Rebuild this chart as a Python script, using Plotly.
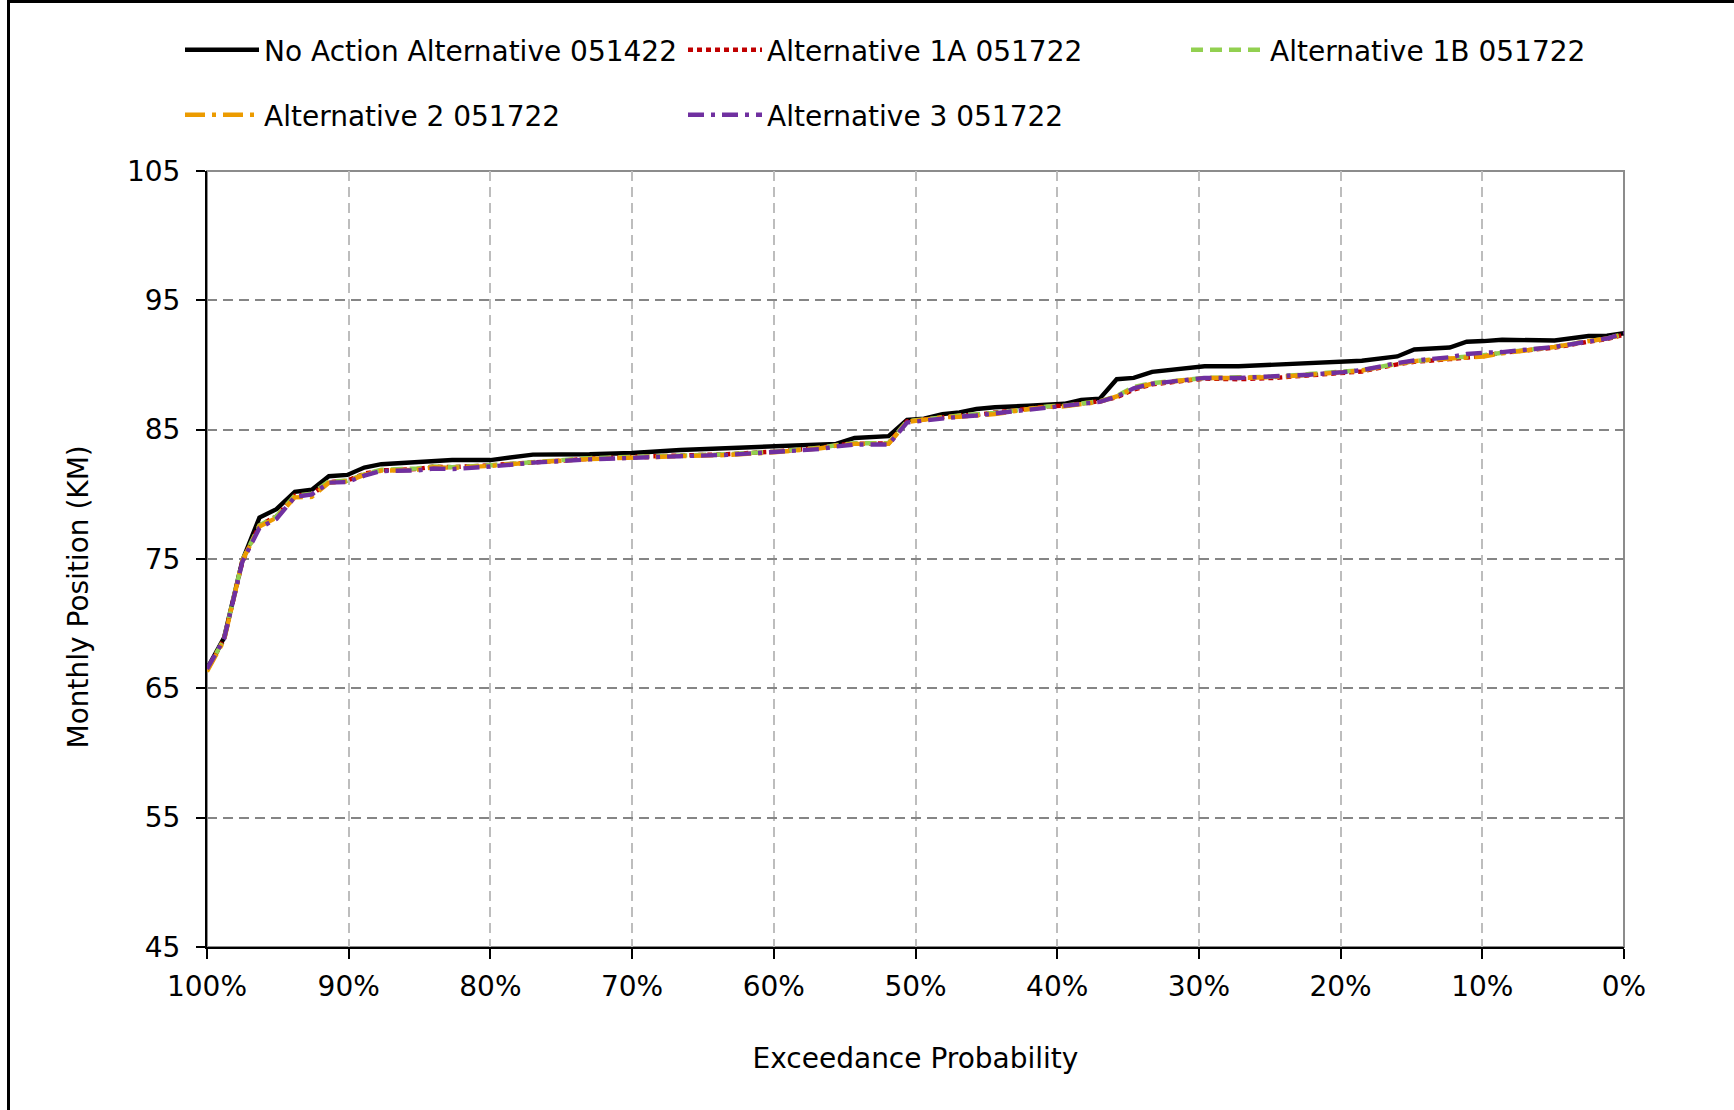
import plotly.graph_objects as go

exceedance = [100, 98.8, 97.5, 96.3, 95.1, 93.8, 92.6, 91.4, 90.1, 88.9,
              87.7, 86.4, 85.2, 84.0, 82.7, 80.0, 77.0, 73.0, 70.0, 66.6,
              63.3, 60.0, 56.7, 55.6, 54.3, 51.9, 50.6, 49.4, 48.1, 46.9,
              45.7, 44.4, 42.0, 40.7, 39.5, 38.3, 37.0, 35.8, 34.6, 33.3,
              31.0, 29.6, 27.2, 24.7, 22.2, 19.8, 18.5, 16.0, 14.8, 12.3,
              11.1, 9.9, 8.6, 4.9, 2.5, 1.2, 0]

no_action = [66.5, 68.9, 74.9, 78.2, 78.85, 80.2, 80.35, 81.4, 81.5, 82.07,
             82.33, 82.4, 82.53, 82.55, 82.66, 82.65, 83.07, 83.1, 83.2, 83.43,
             83.58, 83.7, 83.85, 83.9, 84.36, 84.5, 85.75, 85.85, 86.2, 86.34,
             86.6, 86.73, 86.85, 86.95, 87.0, 87.3, 87.4, 88.9, 89.0, 89.47,
             89.75, 89.9, 89.9, 90.0, 90.1, 90.25, 90.33, 90.66, 91.2, 91.35,
             91.8, 91.85, 91.95, 91.9, 92.24, 92.26, 92.46]

alt_1a = [66.4, 68.8, 74.8, 77.6, 78.3, 79.9, 80.0, 80.95, 81.05, 81.6,
          81.85, 81.9, 81.95, 82.15, 82.1, 82.25, 82.5, 82.75, 82.9, 83.0,
          83.1, 83.3, 83.6, 83.8, 83.9, 83.95, 85.65, 85.8, 86.0, 86.1,
          86.15, 86.3, 86.65, 86.8, 86.85, 87.0, 87.2, 87.5, 88.1, 88.5,
          88.8, 88.95, 88.9, 89.0, 89.2, 89.35, 89.5, 90.05, 90.25, 90.45,
          90.6, 90.7, 90.95, 91.35, 91.8, 92.0, 92.35]

alt_1b = [66.4, 68.8, 74.9, 77.6, 78.3, 79.9, 80.05, 81.0, 81.05, 81.55,
          81.9, 81.95, 82.0, 82.15, 82.1, 82.25, 82.5, 82.8, 82.9, 83.0,
          83.1, 83.3, 83.6, 83.8, 83.95, 83.95, 85.65, 85.8, 86.0, 86.1,
          86.2, 86.3, 86.6, 86.8, 86.85, 87.0, 87.2, 87.6, 88.3, 88.6,
          88.9, 89.0, 89.05, 89.1, 89.3, 89.45, 89.6, 90.1, 90.3, 90.55,
          90.65, 90.75, 90.95, 91.4, 91.85, 92.05, 92.4]

alt_2 = [66.3, 68.7, 74.9, 77.5, 78.2, 79.77, 79.8, 80.9, 81.0, 81.5,
         81.83, 81.85, 81.9, 82.1, 82.05, 82.2, 82.47, 82.73, 82.86, 82.95,
         83.04, 83.25, 83.56, 83.76, 83.9, 83.9, 85.6, 85.75, 85.95, 86.0,
         86.08, 86.2, 86.6, 86.75, 86.8, 86.95, 87.15, 87.57, 88.2, 88.55,
         88.85, 89.0, 89.0, 89.06, 89.25, 89.42, 89.56, 90.1, 90.3, 90.5,
         90.6, 90.66, 90.9, 91.4, 91.85, 92.05, 92.38]

alt_3 = [66.5, 68.8, 74.8, 77.4, 78.1, 79.8, 80.0, 80.9, 80.95, 81.45,
         81.8, 81.8, 81.85, 82.0, 81.95, 82.15, 82.45, 82.7, 82.85, 82.95,
         83.05, 83.25, 83.5, 83.7, 83.85, 83.85, 85.55, 85.7, 85.9, 86.0,
         86.1, 86.25, 86.55, 86.7, 86.8, 86.95, 87.15, 87.55, 88.2, 88.55,
         88.85, 89.0, 89.0, 89.1, 89.25, 89.45, 89.6, 90.15, 90.35, 90.6,
         90.85, 90.95, 91.0, 91.4, 91.85, 92.05, 92.45]

series_names = ["No Action Alternative 051422", "Alternative 1A 051722",
                "Alternative 1B 051722", "Alternative 2 051722",
                "Alternative 3 051722"]
series_values = [no_action, alt_1a, alt_1b, alt_2, alt_3]
series_colors = ["#000000", "#C00000", "#92D050", "#EC9B00", "#7030A0"]
series_dash = ["solid", "5px,4px", "12px,7px", "20px,7px,4px,7px", "16px,7px,4px,7px"]

x_ticks = [100, 90, 80, 70, 60, 50, 40, 30, 20, 10, 0]
y_ticks = [45, 55, 65, 75, 85, 95, 105]

x_title = "Exceedance Probability"
y_title = "Monthly Position (KM)"

W, H = 1734, 1110
ML, MR, MT, MB = 207, 110, 171, 163
PW, PH = W - ML - MR, H - MT - MB

FONT = "DejaVu Sans, Verdana, sans-serif"
FS = 28

fig = go.Figure()
legend_ids = ["legend", "legend2", "legend3", "legend4", "legend5"]
for name, vals, col, dash, lid in zip(series_names, series_values, series_colors,
                                      series_dash, legend_ids):
    fig.add_trace(go.Scatter(x=exceedance, y=vals, mode="lines", name=name,
                             line=dict(color=col, width=4.4, dash=dash),
                             legend=lid))

# legend item positions (symbol start px, row center px)
legend_pos = [(188, 50), (691, 50), (1194, 50), (188, 115), (691, 115)]
legend_layout = {}
for lid, (px, py) in zip(legend_ids, legend_pos):
    legend_layout[lid] = dict(x=(px - 8) / W, y=1 - py / H, xref="container",
                              yref="container", xanchor="left", yanchor="middle",
                              orientation="h", itemwidth=74,
                              font=dict(family=FONT, size=FS, color="#000"),
                              bgcolor="rgba(0,0,0,0)")

def px_x(p):
    return (p - ML) / PW

def px_y(p):
    return (H - MB - p) / PH

shapes = [
    dict(type="rect", xref="paper", yref="paper", x0=0, x1=1, y0=0, y1=1,
         line=dict(color="#8c8c8c", width=2), layer="below"),
    dict(type="line", xref="paper", yref="paper", x0=px_x(8.5), x1=px_x(8.5),
         y0=px_y(1.5), y1=px_y(H + 10), line=dict(color="#000", width=3)),
    dict(type="line", xref="paper", yref="paper", x0=px_x(7), x1=px_x(W + 10),
         y0=px_y(1.5), y1=px_y(1.5), line=dict(color="#000", width=3)),
]

annotations = [
    dict(text=y_title, xref="paper", yref="paper", x=px_x(77.5), y=px_y(597),
         xanchor="center", yanchor="middle", textangle=-90, showarrow=False,
         font=dict(family=FONT, size=FS, color="#000")),
]

fig.update_layout(
    width=W, height=H,
    margin=dict(l=ML, r=MR, t=MT, b=MB, autoexpand=False),
    paper_bgcolor="white", plot_bgcolor="white",
    font=dict(family=FONT, size=FS, color="#000"),
    showlegend=True,
    shapes=shapes,
    annotations=annotations,
    xaxis=dict(range=[100, 0], tickvals=x_ticks, ticktext=[f"{v}%" for v in x_ticks],
               showgrid=True, gridcolor="#bdbdbd", gridwidth=2, griddash="10px,6px",
               showline=True, linecolor="#000", linewidth=2,
               ticks="outside", ticklen=10, tickwidth=1.5, tickcolor="#000",
               ticklabelstandoff=3, zeroline=False,
               title=dict(text=x_title, standoff=47,
                          font=dict(family=FONT, size=FS))),
    yaxis=dict(range=[45, 105], tickvals=y_ticks,
               showgrid=True, gridcolor="#858585", gridwidth=2, griddash="10px,6px",
               showline=True, linecolor="#000", linewidth=2,
               ticks="outside", ticklen=9, tickwidth=1.5, tickcolor="#000",
               ticklabelstandoff=10, zeroline=False),
    **legend_layout,
)

fig.write_html("out.html", config={"displayModeBar": False},
               post_script="document.body.style.margin='0';")
